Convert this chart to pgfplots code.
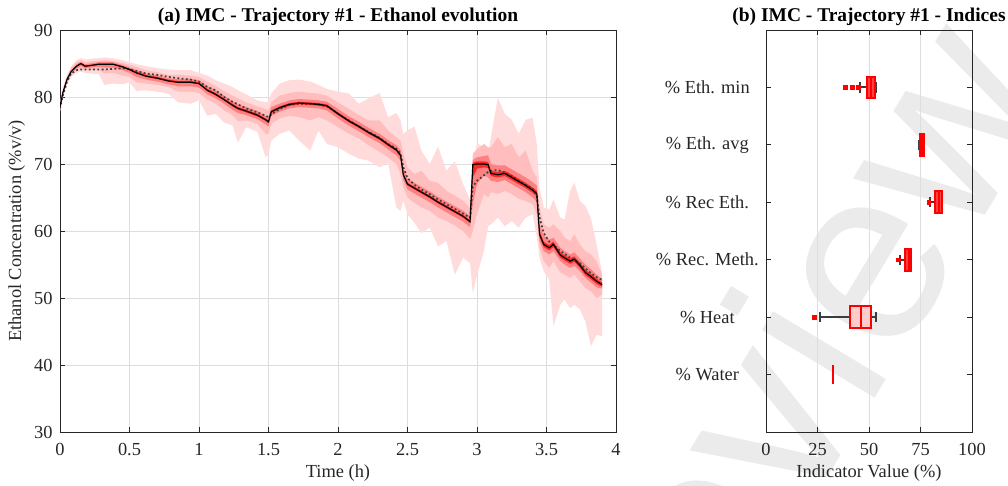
\documentclass[border=0pt]{standalone}
\usepackage{fontspec}
\setmainfont{Liberation Serif}
\newfontfamily\wmfont{Liberation Sans}
\usepackage{pgfplots}
\pgfplotsset{compat=1.18}
\usepackage{pgfplotstable}
\usepgfplotslibrary{fillbetween}

\definecolor{axgray}{RGB}{38,38,38}
\definecolor{gridgray}{RGB}{222,222,222}
\definecolor{whisk}{RGB}{60,60,60}

% t: time (h), m: IMC trajectory, r: reference trajectory,
% l1/h1 ... l4/h4: outer to inner bands of the simulated ensemble
\pgfplotstableread{
t    m     r     l1    h1    l2    h2    l3    h3    l4    h4
0.00 78.5  78.3  77.8  79.2  78.1  78.9  78.3  78.7  78.4  78.6
0.02 80.6  80.2  79.8  81.3  80.1  81.0  80.3  80.8  80.5  80.7
0.05 82.6  82.3  81.8  83.3  82.1  83.0  82.3  82.8  82.5  82.7
0.08 83.8  83.5  83.0  84.6  83.3  84.3  83.5  84.0  83.7  83.9
0.12 84.6  84.0  83.6  85.5  84.0  85.2  84.3  84.9  84.5  84.7
0.15 85.0  84.1  83.8  85.8  84.2  85.5  84.6  85.2  84.9  85.1
0.18 84.6  84.1  83.6  85.6  84.0  85.2  84.3  84.9  84.5  84.7
0.22 84.7  84.1  83.5  85.7  84.0  85.3  84.4  85.0  84.6  84.8
0.28 84.9  84.1  83.4  85.8  84.1  85.4  84.5  85.2  84.8  85.0
0.32 84.9  84.1  81.8  85.9  83.5  85.5  84.4  85.2  84.8  85.0
0.38 84.9  84.2  82.0  85.8  83.6  85.4  84.4  85.2  84.8  85.0
0.45 84.5  84.3  81.9  85.5  83.2  85.1  84.0  84.8  84.4  84.6
0.50 84.1  84.2  82.2  85.2  83.0  84.8  83.6  84.4  84.0  84.2
0.55 83.6  83.9  80.9  84.9  82.2  84.5  83.0  84.0  83.5  83.8
0.62 83.1  83.5  81.0  84.6  82.0  84.0  82.6  83.5  83.0  83.3
0.70 82.8  83.3  80.8  84.3  81.8  83.7  82.3  83.2  82.7  83.0
0.78 82.4  83.0  80.5  84.1  81.5  83.3  81.9  82.8  82.3  82.6
0.85 82.2  82.8  79.2  84.0  80.8  83.3  81.6  82.7  82.1  82.4
0.94 82.2  82.6  79.0  84.0  80.8  83.2  81.6  82.7  82.1  82.4
1.00 82.0  82.3  79.5  83.6  80.6  83.0  81.4  82.5  81.9  82.2
1.06 81.0  81.5  77.2  83.2  79.6  82.3  80.4  81.6  80.9  81.2
1.12 80.4  81.0  77.5  82.5  79.0  81.6  79.8  81.0  80.2  80.6
1.18 79.6  80.0  76.2  82.0  78.0  80.9  79.0  80.2  79.5  79.8
1.24 78.8  79.3  75.8  81.5  77.3  80.2  78.1  79.4  78.6  79.0
1.28 78.3  78.9  73.2  81.0  76.4  79.8  77.6  78.9  78.1  78.5
1.34 77.9  78.3  75.5  80.4  76.5  79.2  77.3  78.5  77.7  78.1
1.42 77.3  77.7  74.8  79.5  76.0  78.6  76.7  77.9  77.1  77.5
1.48 76.6  77.2  71.0  79.2  74.5  78.2  75.9  77.2  76.4  76.8
1.50 76.3  77.0  71.5  79.4  74.5  78.0  75.6  77.0  76.1  76.5
1.52 77.8  77.4  73.5  80.5  76.0  79.2  77.2  78.5  77.6  78.0
1.58 78.4  78.2  74.5  82.0  76.8  80.2  77.8  79.0  78.2  78.6
1.65 78.9  78.8  75.0  82.5  77.2  80.6  78.3  79.5  78.7  79.1
1.72 79.1  79.0  73.5  82.6  77.0  80.8  78.5  79.7  78.9  79.3
1.80 79.0  79.0  72.0  82.3  76.5  80.6  78.4  79.6  78.8  79.2
1.86 78.9  78.9  75.0  81.8  77.0  80.5  78.3  79.5  78.7  79.1
1.92 78.7  78.6  73.0  81.2  76.5  80.2  78.0  79.3  78.5  78.9
2.00 77.5  77.5  72.5  80.8  75.5  79.2  76.8  78.2  77.3  77.7
2.08 76.4  76.5  71.5  80.5  74.5  78.2  75.7  77.1  76.2  76.6
2.15 75.6  75.6  70.8  79.0  73.8  77.3  74.9  76.3  75.4  75.8
2.22 74.7  74.8  70.5  79.8  72.8  76.5  74.0  75.4  74.5  74.9
2.30 73.8  73.9  69.5  80.6  71.8  76.5  73.1  74.5  73.6  74.0
2.36 72.9  73.0  70.2  77.0  71.0  75.0  72.2  73.6  72.7  73.1
2.42 72.1  72.3  63.5  77.6  70.0  74.0  71.3  72.8  71.9  72.3
2.45 71.3  71.6  63.0  76.5  68.5  73.5  70.5  72.1  71.1  71.5
2.47 68.4  69.5  64.5  74.5  66.5  71.5  67.6  69.3  68.2  68.6
2.50 67.0  67.9  62.5  75.0  65.0  69.5  66.2  67.8  66.8  67.2
2.55 66.4  66.9  61.2  75.6  64.2  68.5  65.6  67.2  66.2  66.6
2.60 65.8  66.2  59.7  72.0  63.5  69.0  65.0  66.6  65.6  66.0
2.66 65.1  65.5  60.5  70.0  63.0  67.5  64.3  65.9  64.9  65.3
2.72 64.3  64.7  57.7  72.6  62.0  67.2  63.5  65.1  64.1  64.5
2.78 63.6  64.0  58.5  69.0  61.5  66.0  62.8  64.4  63.4  63.8
2.84 62.9  63.3  53.5  70.4  60.8  65.3  62.1  63.7  62.7  63.1
2.90 62.2  62.6  56.0  67.0  60.0  64.5  61.4  63.0  62.0  62.4
2.95 61.4  62.0  55.2  64.7  58.8  63.5  60.6  62.2  61.2  61.6
2.97 69.9  66.6  50.7  70.0  60.0  71.5  64.0  70.6  68.0  70.2
3.00 70.0  67.5  53.5  73.1  62.5  72.2  67.0  71.0  69.3  70.4
3.05 70.0  68.3  57.0  72.5  65.5  73.0  68.3  71.2  69.5  70.4
3.08 69.9  68.8  60.7  71.6  65.0  72.5  68.0  71.3  69.4  70.3
3.10 68.6  69.0  61.0  74.0  65.8  72.5  67.5  70.0  68.2  69.0
3.15 68.4  69.1  62.0  79.9  65.5  74.0  67.3  69.8  68.0  68.8
3.20 68.6  68.7  60.7  77.5  66.0  72.5  67.6  69.8  68.2  69.0
3.25 68.0  68.2  61.5  76.6  65.5  73.0  67.0  69.2  67.6  68.4
3.30 67.4  67.5  60.5  74.5  64.8  71.0  66.4  68.6  67.0  67.8
3.35 66.8  66.9  62.0  76.6  64.5  72.0  65.8  68.0  66.4  67.2
3.40 66.1  66.3  62.5  76.9  64.0  69.0  65.0  67.3  65.7  66.5
3.43 65.6  65.2  59.2  73.0  62.5  68.0  64.4  66.8  65.2  66.0
3.45 59.5  62.0  56.0  66.5  57.5  63.5  58.5  61.0  59.1  59.9
3.48 58.0  59.7  54.0  63.5  55.5  61.0  57.0  59.3  57.6  58.4
3.52 57.5  58.4  52.7  63.2  54.5  60.5  56.5  58.7  57.1  57.9
3.55 58.0  57.9  45.8  64.7  55.5  61.0  57.0  59.0  57.6  58.4
3.60 56.4  57.0  49.0  62.0  53.8  60.0  55.5  57.5  56.0  56.8
3.63 56.0  56.6  49.8  61.7  53.5  59.0  55.0  57.0  55.6  56.4
3.67 55.5  56.0  48.5  66.0  53.0  58.5  54.5  56.5  55.1  55.9
3.70 55.8  55.6  49.0  67.2  53.5  59.5  54.8  56.8  55.4  56.2
3.74 54.9  55.2  48.3  64.5  52.5  58.0  54.0  55.9  54.5  55.3
3.78 53.8  54.4  46.5  63.7  51.5  57.0  53.0  55.0  53.4  54.2
3.82 53.2  53.7  42.8  61.9  51.0  56.5  52.3  54.3  52.8  53.6
3.86 52.5  53.1  44.5  58.0  50.0  55.5  51.6  53.5  52.1  52.9
3.90 52.0  52.7  44.3  53.7  50.5  53.5  51.4  52.8  51.7  52.3
}\ethanol

\pgfplotsset{
  matlabstyle/.style={
    scale only axis,
    axis line style={axgray, line width=0.7pt},
    tick style={axgray, line width=0.6pt},
    tick align=inside,
    major tick length=4pt,
    every tick label/.append style={text=axgray},
    xticklabel style={yshift=-5pt},
    label style={text=axgray},
    font=\fontsize{13.8}{16}\selectfont,
    title style={font=\fontsize{14.6}{17}\selectfont\bfseries, text=black, yshift=-6pt},
    major grid style={gridgray, line width=0.6pt},
    /pgf/number format/assume math mode=true,
  },
  narrowbox/.style={draw=red, fill=red!75, line width=1.5pt},
  widebox/.style={draw=red, fill=red!20, line width=1.5pt},
  whisker/.style={whisk, line width=1.5pt, unbounded coords=jump},
  median/.style={red, line width=1.5pt},
}

\begin{document}
\begin{tikzpicture}
\node[rotate=59, text=black!8, font=\wmfont\fontsize{187}{187}\selectfont]
  at (566pt,45pt) {Preview};

\begin{axis}[
  matlabstyle,
  at={(45pt,40.5pt)}, anchor=south west,
  width=417pt, height=301.5pt,
  xmin=0, xmax=4, ymin=30, ymax=90,
  xtick={0,0.5,1,1.5,2,2.5,3,3.5,4},
  xticklabels={0,0.5,1,1.5,2,2.5,3,3.5,4},
  ytick={30,40,50,60,70,80,90},
  yticklabel style={xshift=-2pt},
  grid=major,
  title={(a) IMC - Trajectory \#1 - Ethanol evolution},
  xlabel={Time (h)},
  ylabel={Ethanol Concentration (\%v/v)},
]
\addplot[name path=h1, draw=none] table[x=t, y=h1] {\ethanol};
\addplot[name path=l1, draw=none] table[x=t, y=l1] {\ethanol};
\addplot[red!14, draw=none] fill between[of=h1 and l1];
\addplot[name path=h2, draw=none] table[x=t, y=h2] {\ethanol};
\addplot[name path=l2, draw=none] table[x=t, y=l2] {\ethanol};
\addplot[red!26, draw=none] fill between[of=h2 and l2];
\addplot[name path=h3, draw=none] table[x=t, y=h3] {\ethanol};
\addplot[name path=l3, draw=none] table[x=t, y=l3] {\ethanol};
\addplot[red!50, draw=none] fill between[of=h3 and l3];
\addplot[name path=h4, draw=none] table[x=t, y=h4] {\ethanol};
\addplot[name path=l4, draw=none] table[x=t, y=l4] {\ethanol};
\addplot[red!85, draw=none] fill between[of=h4 and l4];
\addplot[black!75, dash pattern=on 1.4pt off 1.8pt, line width=1.3pt] table[x=t, y=r] {\ethanol};
\addplot[black, line width=0.9pt] table[x=t, y=m] {\ethanol};
\end{axis}

\begin{axis}[
  matlabstyle,
  at={(574.5pt,40.5pt)}, anchor=south west,
  width=154.5pt, height=301.5pt,
  xmin=0, xmax=100, ymin=0, ymax=7,
  y dir=reverse,
  xtick={0,25,50,75,100},
  ytick={1,2,3,4,5,6},
  yticklabels={\% Eth. min, \% Eth. avg, \% Rec Eth., \% Rec. Meth., \% Heat, \% Water},
  yticklabel style={anchor=center, xshift=-44pt},
  xmajorgrids,
  title={(b) IMC - Trajectory \#1 - Indices},
  xlabel={Indicator Value (\%)},
]
% whiskers and caps
\addplot[whisker] coordinates {
  (45.6,1) (49.0,1) (nan,nan) (45.6,0.91) (45.6,1.09) (nan,nan)
  (53.4,0.91) (53.4,1.09) (nan,nan)
  (74.4,1.91) (74.4,2.09) (nan,nan)
  (79.6,3) (82.2,3) (nan,nan) (79.6,2.91) (79.6,3.09) (nan,nan)
  (85.6,2.91) (85.6,3.09) (nan,nan)
  (65.2,4) (67.6,4) (nan,nan) (65.2,3.91) (65.2,4.09) (nan,nan)
  (26.2,5) (40.6,5) (nan,nan) (26.2,4.91) (26.2,5.09) (nan,nan)
  (50.8,5) (53.4,5) (nan,nan) (53.4,4.91) (53.4,5.09)
};
% boxes (lower quartile to upper quartile)
\addplot[narrowbox] coordinates {(49.0,0.81) (53.0,0.81) (53.0,1.19) (49.0,1.19)} -- cycle;
\addplot[narrowbox] coordinates {(74.6,1.81) (76.6,1.81) (76.6,2.19) (74.6,2.19)} -- cycle;
\addplot[narrowbox] coordinates {(82.2,2.81) (85.4,2.81) (85.4,3.19) (82.2,3.19)} -- cycle;
\addplot[narrowbox] coordinates {(67.6,3.81) (70.4,3.81) (70.4,4.19) (67.6,4.19)} -- cycle;
\addplot[widebox] coordinates {(40.6,4.805) (50.8,4.805) (50.8,5.195) (40.6,5.195)} -- cycle;
\addplot[red, line width=1.5pt] coordinates {(32.7,5.84) (32.7,6.16)};
% medians
\addplot[median, unbounded coords=jump] coordinates {
  (51.2,0.81) (51.2,1.19) (nan,nan) (75.5,1.81) (75.5,2.19) (nan,nan)
  (83.8,2.81) (83.8,3.19) (nan,nan) (69.2,3.81) (69.2,4.19) (nan,nan)
  (46.0,4.805) (46.0,5.195)
};
% outliers
\addplot[only marks, mark=square*, red, mark size=1.4pt]
  coordinates {(38.3,1) (41.7,1) (44.7,1) (79.0,3) (64.2,4) (23.3,5)};
\end{axis}

\pgfresetboundingbox
\useasboundingbox (0pt,0pt) rectangle (756pt,364.5pt);
\end{tikzpicture}
\end{document}
